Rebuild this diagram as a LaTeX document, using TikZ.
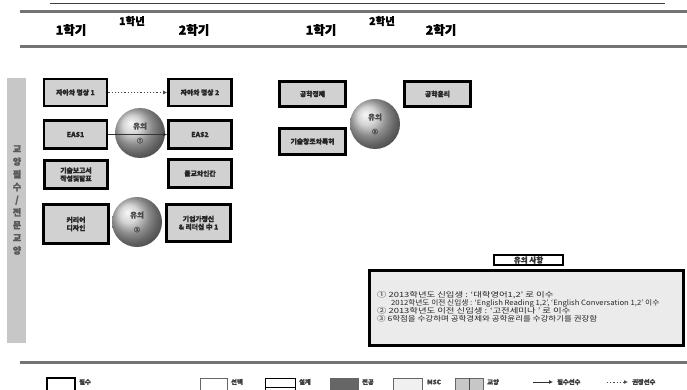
\documentclass[tikz,border=0pt]{standalone}
\usepackage{fontspec}
\setmainfont{Noto Sans CJK KR}[BoldFeatures={FakeBold=1.6}]
\usetikzlibrary{arrows.meta,shadings}
\begin{document}
\begin{tikzpicture}[x=1pt,y=-1pt,
  course/.style={draw=black, line width=2.6pt, fill=black!18, minimum width=63pt, minimum height=27pt,
     align=center, inner sep=1pt, font=\fontsize{6.8}{8}\selectfont\bfseries, text=black!85},
  ballnote/.style={circle, minimum size=50pt, ball color=black!22, inner sep=0pt, align=center,
     font=\fontsize{7.5}{9}\selectfont\bfseries, text=black!70},
  hdr/.style={font=\fontsize{12.5}{14}\selectfont\bfseries},
  hdrs/.style={font=\fontsize{10.5}{12}\selectfont\bfseries},
  reqarrow/.style={draw=black!80, line width=1.2pt, -{Latex[length=4pt,width=4pt]}},
  recarrow/.style={draw=black!70, line width=1.2pt, dotted, -{Latex[length=4pt,width=4pt]}},
  notetxt/.style={anchor=west, inner sep=0pt, font=\fontsize{7.2}{8}\selectfont, text=black!85},
  leglbl/.style={anchor=west, inner sep=0pt, font=\fontsize{6.3}{7}\selectfont\bfseries, text=black!75},
  legbox/.style={line width=0.8pt, draw=black!60}
]
\useasboundingbox (0,0) rectangle (687,390);
\fill[white] (0,0) rectangle (687,390);

% top lines
\draw[black!75, line width=0.9pt] (50,3) -- (665,3);
\draw[black!55, line width=3pt] (20,12) -- (687,12);
\draw[black!55, line width=3pt] (20,47) -- (687,47);

% header
\node[hdr] (s11) at (71,30) {1학기};
\node[hdrs] (y1) at (132,21) {1학년};
\node[hdr] (s12) at (194,30) {2학기};
\node[hdr] (s21) at (321,30) {1학기};
\node[hdrs] (y2) at (382,21) {2학년};
\node[hdr] (s22) at (441,30) {2학기};

% left bar
\fill[black!22] (7,78) rectangle (26,343);
\node[align=center, inner sep=0pt, text=black!65, font=\fontsize{9}{12.7}\selectfont\bfseries] (side) at (17,200)
  {교\\양\\필\\수\\/\\전\\문\\교\\양};

% courses year 1
\node[course] (a1) at (75.5,92.5) {자아와 명상 1};
\node[course] (a2) at (200,92.5) {자아와 명상 2};
\node[course, minimum height=28pt] (e1) at (75.5,134.5) {EAS1};
\node[course, minimum height=28pt] (e2) at (200,134.5) {EAS2};
\node[course, minimum height=28pt] (t1) at (76,174.5) {기술보고서\\작성및발표};
\node[course, minimum height=28pt] (b1) at (200,173.5) {불교와인간};
\node[course, minimum width=65pt, minimum height=39pt] (c1) at (76,224) {커리어\\디자인};
\node[course, minimum width=64pt, minimum height=37pt] (l1) at (198.5,223) {기업가정신\\\& 리더십 中 1};

% courses year 2
\node[course, minimum width=66pt, minimum height=25pt] (g1) at (312.5,94) {공학경제};
\node[course, minimum width=66pt, minimum height=25pt] (g2) at (437.5,94) {공학윤리};
\node[course, minimum width=66pt, minimum height=26pt] (g3) at (312.5,141.5) {기술창조와특허};

% note balls
\node[ballnote] (n1) at (140,133) {유의\\[5pt]{\fontsize{6}{7}\selectfont ①}};
\node[ballnote] (n2) at (137,222) {유의\\[5pt]{\fontsize{6}{7}\selectfont ②}};
\node[ballnote] (n3) at (375,124) {유의\\[5pt]{\fontsize{6}{7}\selectfont ③}};

% connectors
\draw[recarrow] (a1.east) -- (a2.west);
\draw[reqarrow] (e1.east) -- (e2.west);

% notes
\node[draw=black, line width=2.8pt, fill=black!8, minimum width=314pt, minimum height=75pt, inner sep=0pt] (nb) at (526.5,308) {};
\node[draw=black, line width=2.4pt, fill=white, minimum width=69pt, minimum height=10pt, inner sep=0pt,
      font=\fontsize{7.5}{8}\selectfont\bfseries, text=black!80] (nt) at (528.5,260) {유의 사항};
\node[notetxt] (l1n) at (377,295) {\scalebox{1.3}[1]{① 2013학년도 신입생 : ‘대학영어1,2’ 로 이수}};
\node[notetxt] (l2n) at (391,303) {\scalebox{1.07}[1]{2012학년도 이전 신입생 : ‘English Reading 1,2’, ‘English Conversation 1,2’ 이수}};
\node[notetxt] (l3n) at (377,311) {\scalebox{1.3}[1]{② 2013학년도 이전 신입생 : ‘고전세미나 ’ 로 이수}};
\node[notetxt] (l4n) at (377,319) {\scalebox{1.18}[1]{③ 6학점을 수강하며 공학경제와 공학윤리를 수강하기를 권장함}};

% bottom line
\draw[black!55, line width=3pt] (20,362) -- (687,362);

% legend
\draw[draw=black, line width=2.4pt, fill=white] (47,378) rectangle (75,393);
\node[leglbl] (lg1) at (79,382) {필수};
\draw[legbox, fill=white] (200,378) rectangle (227,393);
\node[leglbl] (lg2) at (231,382) {선택};
\draw[draw=black, line width=1pt, fill=white] (265,378) rectangle (295,393);
\draw[black, line width=1pt] (265,387.5) -- (295,387.5);
\node[leglbl] (lg3) at (299,382) {설계};
\draw[legbox, fill=black!60] (330,378) rectangle (358,393);
\node[leglbl] (lg4) at (362,382) {전공};
\draw[legbox, fill=black!6] (393,378) rectangle (422,393);
\node[leglbl] (lg5) at (427,382) {MSC};
\draw[legbox, fill=black!22] (455,378) rectangle (483,393);
\draw[black!70, line width=0.8pt] (469,378) -- (469,393);
\node[leglbl] (lg6) at (487,382) {교양};
\coordinate (r1) at (533,382);
\coordinate (r2) at (553,382);
\draw[reqarrow, line width=0.9pt] (r1) -- (r2);
\node[leglbl] (lg7) at (557,382) {필수선수};
\coordinate (p1) at (607,382);
\coordinate (p2) at (628,382);
\draw[recarrow, line width=0.9pt] (p1) -- (p2);
\node[leglbl] (lg8) at (632,382) {권장선수};
\end{tikzpicture}
\end{document}
